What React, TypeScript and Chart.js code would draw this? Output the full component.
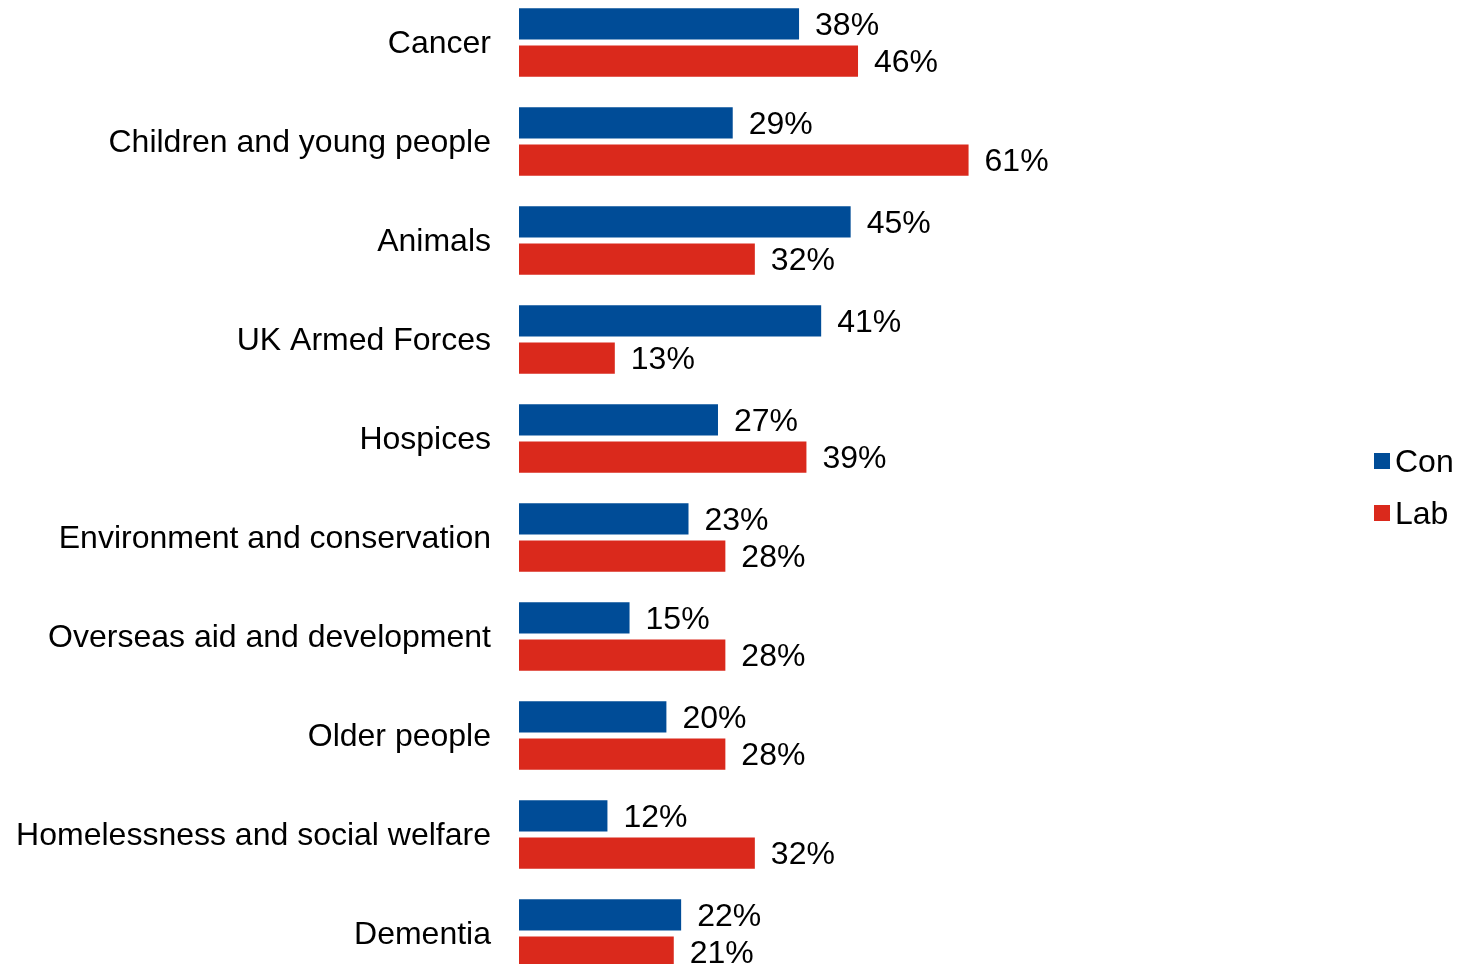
import React, { useEffect, useRef } from "react";
import { Chart, registerables } from "chart.js";

Chart.register(...registerables);

const categories = [
  "Cancer",
  "Children and young people",
  "Animals",
  "UK Armed Forces",
  "Hospices",
  "Environment and conservation",
  "Overseas aid and development",
  "Older people",
  "Homelessness and social welfare",
  "Dementia",
];
const conValues = [38, 29, 45, 41, 27, 23, 15, 20, 12, 22];
const labValues = [46, 61, 32, 13, 39, 28, 28, 28, 32, 21];
const seriesNames = ["Con", "Lab"];
const seriesColors = ["#004C97", "#DA291C"];

const FONT = '"Liberation Sans", Arial, Helvetica, sans-serif';
const FONT_SIZE = 32;

const valueLabelPlugin = {
  id: "valueLabels",
  afterDatasetsDraw(chart: any) {
    const ctx = chart.ctx;
    ctx.save();
    ctx.font = `${FONT_SIZE}px ${FONT}`;
    ctx.fillStyle = "#000";
    ctx.textAlign = "left";
    ctx.textBaseline = "middle";
    chart.data.datasets.forEach((ds: any, di: number) => {
      const meta = chart.getDatasetMeta(di);
      meta.data.forEach((bar: any, i: number) => {
        ctx.fillText(`${ds.data[i]}%`, bar.x + 16, bar.y + 2);
      });
    });
    ctx.restore();
  },
};

const legendPlugin = {
  id: "customLegend",
  afterDraw(chart: any) {
    const ctx = chart.ctx;
    ctx.save();
    ctx.font = `${FONT_SIZE}px ${FONT}`;
    ctx.textAlign = "left";
    ctx.textBaseline = "middle";
    const x = chart.width - 110;
    const cy = chart.height / 2 - 1;
    const spacing = 52;
    const n = chart.data.datasets.length;
    chart.data.datasets.forEach((ds: any, i: number) => {
      const y = cy + (i - (n - 1) / 2) * spacing;
      ctx.fillStyle = ds.backgroundColor;
      ctx.fillRect(x, y - 8, 16, 16);
      ctx.fillStyle = "#000";
      ctx.fillText(ds.label, x + 21, y + 2);
    });
    ctx.restore();
  },
};

export default function App() {
  const ref = useRef<HTMLCanvasElement | null>(null);
  useEffect(() => {
    if (!ref.current) return;
    const chart = new Chart(ref.current, {
      type: "bar",
      data: {
        labels: categories,
        datasets: [
          {
            label: seriesNames[0],
            data: conValues,
            backgroundColor: seriesColors[0],
            categoryPercentage: 0.75,
            barPercentage: 0.84,
          },
          {
            label: seriesNames[1],
            data: labValues,
            backgroundColor: seriesColors[1],
            categoryPercentage: 0.75,
            barPercentage: 0.84,
          },
        ],
      },
      options: {
        indexAxis: "y",
        animation: false,
        responsive: false,
        maintainAspectRatio: false,
        layout: { padding: { left: 0, right: 228, top: 0, bottom: 0 } },
        plugins: {
          legend: { display: false },
          tooltip: { enabled: false },
        },
        scales: {
          x: {
            display: false,
            min: 0,
            max: 100,
          },
          y: {
            grid: { display: false, drawTicks: false },
            border: { display: false },
            ticks: {
              color: "#000",
              padding: 28,
              labelOffset: 2,
              font: { family: FONT, size: FONT_SIZE },
            },
            afterFit(scale: any) {
              scale.width = 519;
              scale.paddingTop = 0;
              scale.paddingBottom = 0;
            },
          },
        },
      },
      plugins: [valueLabelPlugin, legendPlugin],
    });
    return () => chart.destroy();
  }, []);
  return (
    <div style={{ position: "fixed", left: 0, top: -7, width: 1484, height: 990, background: "#fff" }}>
      <canvas ref={ref} width={1484} height={990} style={{ display: "block" }} />
    </div>
  );
}
